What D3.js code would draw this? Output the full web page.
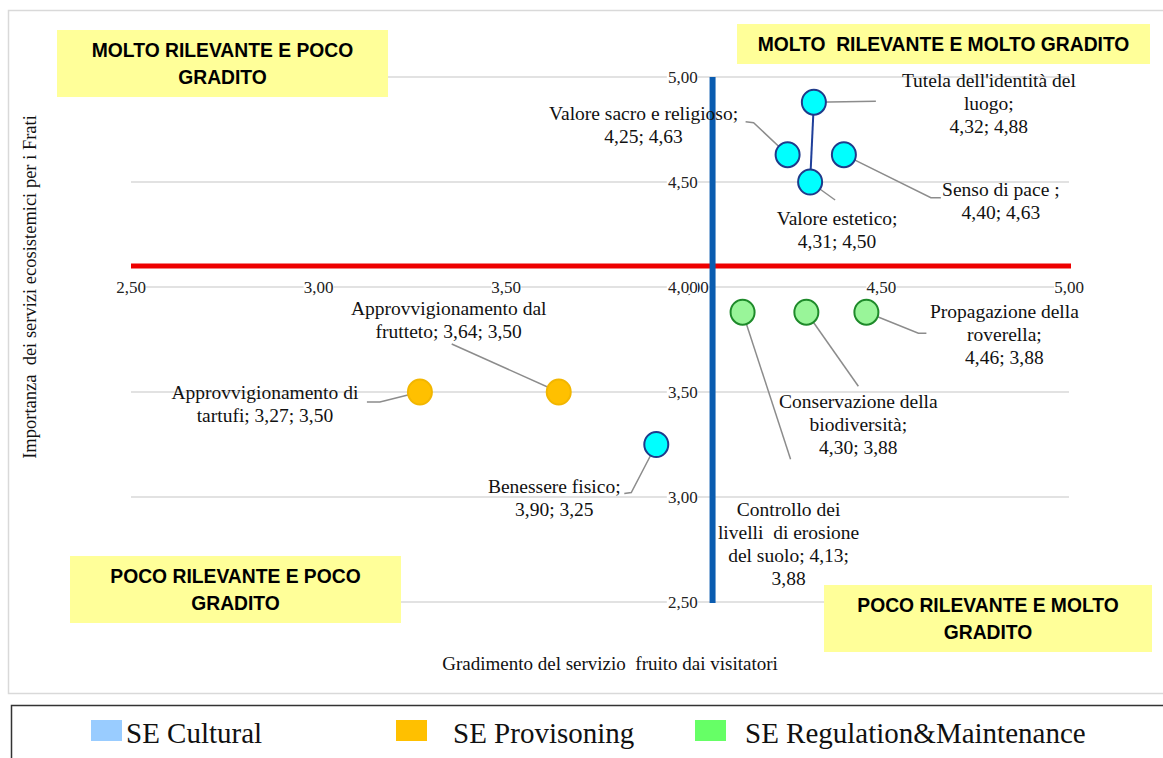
<!DOCTYPE html>
<html>
<head>
<meta charset="utf-8">
<script src="https://cdn.jsdelivr.net/npm/d3@7"></script>
<style>
  html, body { margin: 0; padding: 0; background: #ffffff; }
  svg { display: block; }
</style>
</head>
<body>
<svg id="chart" width="1163" height="758"></svg>
<script>
// Ecosystem services: visitor appreciation (x) vs. importance for the friars (y)
const services = [
  "Tutela dell'identità del luogo",
  "Valore sacro e religioso",
  "Senso di pace ",
  "Valore estetico",
  "Benessere fisico",
  "Approvvigionamento di tartufi",
  "Approvvigionamento dal frutteto",
  "Propagazione della roverella",
  "Conservazione della biodiversità",
  "Controllo dei livelli  di erosione del suolo"
];
const gradimento = [4.32, 4.25, 4.40, 4.31, 3.90, 3.27, 3.64, 4.46, 4.30, 4.13];
const importanza = [4.88, 4.63, 4.63, 4.50, 3.25, 3.50, 3.50, 3.88, 3.88, 3.88];
const categoria  = ["Cultural", "Cultural", "Cultural", "Cultural", "Cultural",
                    "Provisoning", "Provisoning",
                    "Regulation&Maintenance", "Regulation&Maintenance", "Regulation&Maintenance"];

const legendSeries = ["SE Cultural", "SE Provisoning", "SE Regulation&Maintenance"];
const axisTicks = [2.5, 3.0, 3.5, 4.0, 4.5, 5.0];
const dividerX = 4.05;   // vertical divider between quadrants
const dividerY = 4.10;   // horizontal divider between quadrants
const quadrantTitles = [
  ["MOLTO RILEVANTE E POCO", "GRADITO"],
  ["MOLTO  RILEVANTE E MOLTO GRADITO"],
  ["POCO RILEVANTE E POCO", "GRADITO"],
  ["POCO RILEVANTE E MOLTO", "GRADITO"]
];

// ---- styling / layout ----
const fmt = v => d3.format(".2f")(v).replace(".", ",");
const serif = "'Liberation Serif', 'Times New Roman', serif";
const sans = "'Liberation Sans', Arial, sans-serif";

const markerStyle = {
  "Cultural": { fill: "#00ffff", stroke: "#1f3a8a" },
  "Provisoning": { fill: "#ffc000", stroke: "#f2b600" },
  "Regulation&Maintenance": { fill: "#99f599", stroke: "#1e8a2a" }
};
const legendSwatch = ["#99ccff", "#ffc000", "#66ff66"];

// label line templates ({x}/{y} filled from data), label offset and leader path relative to the point
const labelLayout = [
  { lines: ["Tutela dell'identità del", "luogo;", "{x}; {y}"], dx: 175, dy: -22, leader: [[0, 0], [62, -1]] },
  { lines: ["Valore sacro e religioso;", "{x}; {y}"], dx: -144, dy: -41, leader: [[0, 0], [-34, -32], [-42, -33]] },
  { lines: ["Senso di pace ;", "{x}; {y}"], dx: 157, dy: 35, leader: [[0, 0], [87, 43], [97, 43]] },
  { lines: ["Valore estetico;", "{x}; {y}"], dx: 27, dy: 36, leader: [[0, 0], [25, 18]] },
  { lines: ["Benessere fisico;", "{x}; {y}"], dx: -102, dy: 42, leader: [[0, 0], [-25, 48], [-32, 49]] },
  { lines: ["Approvvigionamento di", "tartufi; {x}; {y}"], dx: -155, dy: 0, leader: [[0, 0], [-40, 10], [-53, 10]] },
  { lines: ["Approvvigionamento dal", "frutteto; {x}; {y}"], dx: -110, dy: -84, leader: [[0, 0], [-107, -48]] },
  { lines: ["Propagazione della", "roverella;", "{x}; {y}"], dx: 138, dy: -1, leader: [[0, 0], [52, 21], [60, 21]] },
  { lines: ["Conservazione della", "biodiversità;", "{x}; {y}"], dx: 52, dy: 89, leader: [[0, 0], [52, 74]] },
  { lines: ["Controllo dei", "livelli  di erosione", "del suolo; {x};", "{y}"], dx: 46, dy: 197, leader: [[0, 0], [48, 147]] }
];

const quadrantBoxes = [
  { x: 57, y: 30, w: 331, h: 67 },
  { x: 737, y: 24, w: 413, h: 40 },
  { x: 70, y: 556, w: 331, h: 67 },
  { x: 824, y: 585, w: 328, h: 67 }
];

const svg = d3.select("#chart");

const x = d3.scaleLinear().domain([2.5, 5]).range([131, 1069]);
const y = d3.scaleLinear().domain([2.5, 5]).range([602, 77]);

// outer chart frame
svg.append("rect")
  .attr("x", 8.5).attr("y", 10.5).attr("width", 1160).attr("height", 683)
  .attr("fill", "#fff").attr("stroke", "#d9d9d9").attr("stroke-width", 1.5);

// horizontal gridlines
svg.append("g").selectAll("line").data(axisTicks).join("line")
  .attr("x1", x(2.5)).attr("x2", x(5))
  .attr("y1", d => y(d)).attr("y2", d => y(d))
  .attr("stroke", "#d9d9d9").attr("stroke-width", 1.5);

// horizontal axis labels sit on the y = 4 line
const xLab = svg.append("g").selectAll("g").data(axisTicks).join("g")
  .attr("transform", d => `translate(${x(d)},${y(4)})`);
xLab.append("rect").attr("x", -15).attr("y", -8).attr("width", 30).attr("height", 15).attr("fill", "#fff");
xLab.append("text")
  .attr("text-anchor", "middle").attr("dy", "0.33em")
  .attr("font-family", serif).attr("font-size", 17).attr("fill", "#222")
  .text(fmt);

// vertical axis labels next to x = 4
const yLab = svg.append("g").selectAll("g").data(axisTicks).join("g")
  .attr("transform", d => `translate(${x(4) + 4},${y(d)})`);
yLab.append("rect").attr("x", -31).attr("y", -8).attr("width", 31).attr("height", 15).attr("fill", "#fff");
yLab.append("text")
  .attr("text-anchor", "end").attr("dy", "0.33em")
  .attr("font-family", serif).attr("font-size", 17).attr("fill", "#222")
  .text(fmt);

// quadrant dividers
svg.append("line")
  .attr("x1", x(2.5)).attr("x2", x(5) + 2)
  .attr("y1", y(dividerY)).attr("y2", y(dividerY))
  .attr("stroke", "#ee0000").attr("stroke-width", 5);
svg.append("line")
  .attr("x1", x(dividerX)).attr("x2", x(dividerX))
  .attr("y1", y(5)).attr("y2", y(2.5) + 1)
  .attr("stroke", "#0a5cb0").attr("stroke-width", 6);

// quadrant captions
quadrantBoxes.forEach((b, i) => {
  const g = svg.append("g");
  g.append("rect").attr("x", b.x).attr("y", b.y).attr("width", b.w).attr("height", b.h).attr("fill", "#ffff99");
  const lines = quadrantTitles[i];
  const cy = b.y + b.h / 2;
  g.selectAll("text").data(lines).join("text")
    .attr("x", b.x + b.w / 2)
    .attr("y", (d, j) => cy + (j - (lines.length - 1) / 2) * 27)
    .attr("dy", "0.36em")
    .attr("text-anchor", "middle")
    .attr("font-family", sans).attr("font-weight", "bold").attr("font-size", 19.3)
    .attr("fill", "#000")
    .style("white-space", "pre")
    .text(d => d);
});

// link between the two identity/aesthetic points
svg.append("line")
  .attr("x1", x(gradimento[0])).attr("y1", y(importanza[0]))
  .attr("x2", x(gradimento[3])).attr("y2", y(importanza[3]))
  .attr("stroke", "#1f3f9a").attr("stroke-width", 2);

const points = services.map((s, i) => ({
  name: s, gx: gradimento[i], iy: importanza[i], cat: categoria[i], lay: labelLayout[i]
}));

// leader lines
svg.append("g").selectAll("polyline").data(points).join("polyline")
  .attr("points", d => d.lay.leader.map(p => [x(d.gx) + p[0], y(d.iy) + p[1]].join(",")).join(" "))
  .attr("fill", "none").attr("stroke", "#8c8c8c").attr("stroke-width", 1.5);

// markers
svg.append("g").selectAll("ellipse").data(points).join("ellipse")
  .attr("cx", d => x(d.gx)).attr("cy", d => y(d.iy))
  .attr("rx", 12).attr("ry", 12.5)
  .attr("fill", d => markerStyle[d.cat].fill)
  .attr("stroke", d => markerStyle[d.cat].stroke).attr("stroke-width", 2);

// data labels
const lbl = svg.append("g").selectAll("text").data(points).join("text")
  .attr("font-family", serif).attr("font-size", 19.5).attr("fill", "#111")
  .attr("text-anchor", "middle")
  .style("white-space", "pre");
lbl.each(function (d) {
  const t = d3.select(this);
  const cx = x(d.gx) + d.lay.dx, cy0 = y(d.iy) + d.lay.dy;
  d.lay.lines.forEach((ln, j) => {
    t.append("tspan")
      .attr("x", cx).attr("y", cy0 + j * 23).attr("dy", "0.34em")
      .text(ln.replace("{x}", fmt(d.gx)).replace("{y}", fmt(d.iy)));
  });
});

// axis titles
svg.append("text")
  .attr("x", 610).attr("y", 664).attr("dy", "0.34em")
  .attr("text-anchor", "middle")
  .attr("font-family", serif).attr("font-size", 19).attr("fill", "#111")
  .style("white-space", "pre")
  .text("Gradimento del servizio  fruito dai visitatori");
svg.append("text")
  .attr("transform", "translate(30,287) rotate(-90)")
  .attr("dy", "0.34em")
  .attr("text-anchor", "middle")
  .attr("font-family", serif).attr("font-size", 18.5).attr("fill", "#111")
  .style("white-space", "pre")
  .text("Importanza  dei servizi ecosistemici per i Frati");

// legend
svg.append("rect")
  .attr("x", 11.5).attr("y", 705.5).attr("width", 1160).attr("height", 60)
  .attr("fill", "#fff").attr("stroke", "#333").attr("stroke-width", 1.5);
const legendPos = [{ sx: 91, tx: 126 }, { sx: 396, tx: 453 }, { sx: 695, tx: 745 }];
const lg = svg.append("g").selectAll("g").data(legendSeries).join("g");
lg.append("rect")
  .attr("x", (d, i) => legendPos[i].sx).attr("y", 720)
  .attr("width", 31).attr("height", 21)
  .attr("fill", (d, i) => legendSwatch[i]);
lg.append("text")
  .attr("x", (d, i) => legendPos[i].tx).attr("y", 743)
  .attr("font-family", serif).attr("font-size", 29).attr("fill", "#111")
  .text(d => d);
</script>
</body>
</html>
